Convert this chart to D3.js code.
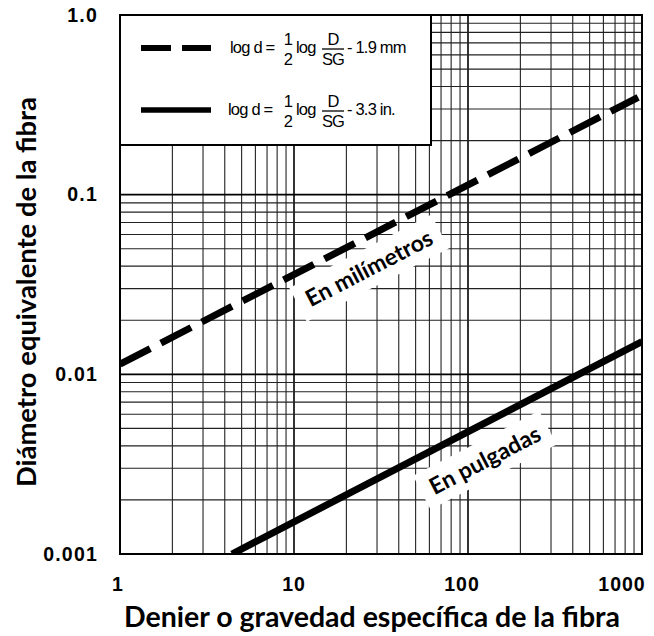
<!DOCTYPE html>
<html>
<head>
<meta charset="utf-8">
<script src="https://cdn.jsdelivr.net/npm/d3@7"></script>
<style>
  body { margin: 0; background: #fff; }
  svg { display: block; }
</style>
</head>
<body>
<div id="chart"></div>
<script>
// Axis ticks
const xTicks = [1, 10, 100, 1000];
const xTickLabels = ['1', '10', '100', '1000'];
const yTicks = [0.001, 0.01, 0.1, 1.0];
const yTickLabels = ['0.001', '0.01', '0.1', '1.0'];

// Lines (denier, diameter)
const mmDenier = [1, 950];
const mmDiameter = [0.0114, 0.348];
const inDenier = [4.4, 1000];
const inDiameter = [0.001, 0.0152];

// Labels on the lines (denier, diameter at text centre)
const labelText = ['En milímetros', 'En pulgadas'];
const labelDenier = [27, 125];
const labelDiameter = [0.039, 0.00333];

// Legend entries
const legendConst = ['- 1.9 mm', '- 3.3 in.'];

function draw() {
    const dimensions = {
        width: 654,
        height: 636,
        left: 120,
        right: 642,
        top: 15,
        bottom: 554
    }

    const x = d3.scaleLog().domain([1, 1000]).range([dimensions.left, dimensions.right]);
    const y = d3.scaleLog().domain([0.001, 1]).range([dimensions.bottom, dimensions.top]);

    const svg = d3.select('#chart')
        .append('svg')
        .attr('width', dimensions.width)
        .attr('height', dimensions.height);

    svg.append('clipPath').attr('id', 'plot-clip')
        .append('rect')
        .attr('x', dimensions.left).attr('y', dimensions.top)
        .attr('width', dimensions.right - dimensions.left)
        .attr('height', dimensions.bottom - dimensions.top);

    // Grid
    const isMajor = v => Math.abs(Math.log10(v) - Math.round(Math.log10(v))) < 1e-9;
    const grid = svg.append('g');

    grid.selectAll('.vx')
        .data(x.ticks())
        .join('line')
        .attr('x1', d => x(d)).attr('x2', d => x(d))
        .attr('y1', dimensions.top).attr('y2', dimensions.bottom)
        .attr('stroke', d => isMajor(d) ? '#000' : '#222')
        .attr('stroke-width', d => isMajor(d) ? 1.6 : 1.1);

    grid.selectAll('.hy')
        .data(y.ticks())
        .join('line')
        .attr('y1', d => y(d)).attr('y2', d => y(d))
        .attr('x1', dimensions.left).attr('x2', dimensions.right)
        .attr('stroke', d => isMajor(d) ? '#000' : '#222')
        .attr('stroke-width', d => isMajor(d) ? 1.6 : 1.1);

    // Frame
    svg.append('rect')
        .attr('x', dimensions.left).attr('y', dimensions.top)
        .attr('width', dimensions.right - dimensions.left)
        .attr('height', dimensions.bottom - dimensions.top)
        .attr('fill', 'none')
        .attr('stroke', '#000')
        .attr('stroke-width', 2);

    const line = d3.line().x(d => x(d[0])).y(d => y(d[1]));
    const plot = svg.append('g').attr('clip-path', 'url(#plot-clip)');

    // Angle of a slope-1/2 line in pixels
    const angle = Math.atan2(y(10) - y(1), x(100) - x(1)) * 180 / Math.PI;

    // Label backgrounds + text
    const labelFont = '700 23px Lato';
    labelText.forEach((t, i) => {
        const g = plot.append('g')
            .attr('transform', `translate(${x(labelDenier[i])}, ${y(labelDiameter[i])}) rotate(${angle})`);
        const txt = g.append('text')
            .attr('text-anchor', 'middle')
            .attr('dy', '0.35em')
            .style('font', labelFont)
            .text(t);
        const w = txt.node().getComputedTextLength();
        g.insert('rect', 'text')
            .attr('x', -w / 2 - 10).attr('y', -19)
            .attr('width', w + 20).attr('height', 38)
            .attr('fill', '#fff');
    });

    plot.append('path')
        .datum(d3.zip(mmDenier, mmDiameter))
        .attr('d', line)
        .attr('fill', 'none')
        .attr('stroke', '#000')
        .attr('stroke-width', 7)
        .attr('stroke-dasharray', '34,12');

    plot.append('path')
        .datum(d3.zip(inDenier, inDiameter))
        .attr('d', line)
        .attr('fill', 'none')
        .attr('stroke', '#000')
        .attr('stroke-width', 7);

    // Legend
    const legend = svg.append('g');
    legend.append('rect')
        .attr('x', dimensions.left).attr('y', dimensions.top)
        .attr('width', 311).attr('height', 130)
        .attr('fill', '#fff')
        .attr('stroke', '#000')
        .attr('stroke-width', 2);

    const fontSm = '400 16.5px "Liberation Sans", Arial, sans-serif';
    legendConst.forEach((c, i) => {
        const oy = 53 + i * 62;
        legend.append('line')
            .attr('x1', 141).attr('x2', 211)
            .attr('y1', oy - 5).attr('y2', oy - 5)
            .attr('stroke', '#000')
            .attr('stroke-width', i === 0 ? 6 : 5.5)
            .attr('stroke-dasharray', i === 0 ? '30,11' : null);

        const tx = (xx, yy, s, anchor) => legend.append('text')
            .attr('x', xx).attr('y', yy)
            .attr('text-anchor', anchor || 'start')
            .style('font', fontSm)
            .style('letter-spacing', '-0.8px')
            .text(s);

        tx(i === 0 ? 230 : 228, oy, 'log d =');
        tx(288, oy - 8, '1', 'middle');
        tx(288, oy + 12, '2', 'middle');
        tx(296, oy, 'log');
        tx(333, oy - 8, 'D', 'middle');
        tx(333, oy + 12, 'SG', 'middle');
        legend.append('line')
            .attr('x1', 322).attr('x2', 344)
            .attr('y1', oy - 4).attr('y2', oy - 4)
            .attr('stroke', '#000').attr('stroke-width', 1.3);
        tx(347, oy, c);
    });

    // Tick labels
    const tickFont = '700 19.5px "Liberation Sans", Arial, sans-serif';
    const xLabelShift = [-2, 0, -6, -20];
    svg.selectAll('.xt')
        .data(xTicks)
        .join('text')
        .attr('x', (d, i) => x(d) + xLabelShift[i])
        .attr('y', 591)
        .attr('text-anchor', 'middle')
        .style('font', tickFont)
        .style('letter-spacing', '1px')
        .text((d, i) => xTickLabels[i]);

    svg.selectAll('.yt')
        .data(yTicks)
        .join('text')
        .attr('x', 98)
        .attr('y', d => y(d))
        .attr('dy', '0.35em')
        .attr('text-anchor', 'end')
        .style('font', tickFont)
        .style('letter-spacing', '1.2px')
        .text((d, i) => yTickLabels[i]);

    // Axis titles
    svg.append('text')
        .attr('x', 372).attr('y', 627)
        .attr('text-anchor', 'middle')
        .style('font', '700 28.5px Lato')
        .text('Denier o gravedad específica de la fibra');

    svg.append('text')
        .attr('transform', 'translate(36, 292) rotate(-90)')
        .attr('text-anchor', 'middle')
        .style('font', '700 27.4px Lato')
        .text('Diámetro equivalente de la fibra');
}

draw();
</script>
</body>
</html>
